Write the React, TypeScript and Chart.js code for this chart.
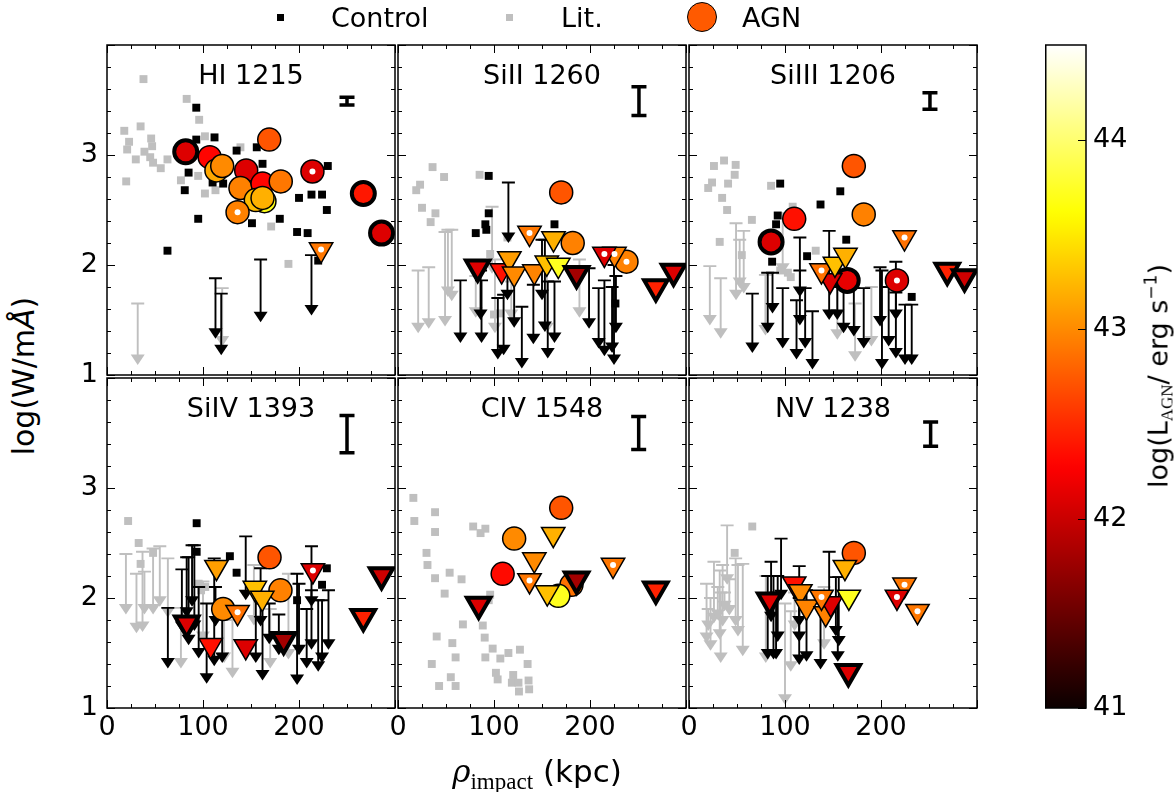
import React, { useEffect, useRef } from 'react';
import { Chart, registerables } from 'chart.js';

Chart.register(...registerables);
Chart.defaults.font.family = "'DejaVu Sans', sans-serif";
Chart.defaults.color = '#000';

// ---------- axes ----------
const X_MIN = 0;
const X_MAX = 300;
const Y_MIN = 1;
const Y_MAX = 4;
const X_TICKS = [0, 100, 200];
const Y_TICKS = [1, 2, 3];
const X_TICKS_ALL = [0, 25, 50, 75, 100, 125, 150, 175, 200, 225, 250, 275, 300];
const X_TICKS_MAJOR = [0, 100, 200, 300];
const Y_TICKS_ALL = [1, 1.2, 1.4, 1.6, 1.8, 2, 2.2, 2.4, 2.6, 2.8, 3, 3.2, 3.4, 3.6, 3.8, 4];
const Y_TICKS_MAJOR = [1, 2, 3, 4];
const CBAR_MIN = 41;
const CBAR_MAX = 44.5;
const CBAR_TICKS = [41, 42, 43, 44];

// ---------- data ----------
// points: [rho, logW]; limits: [rho, cap, arrow tip]; AGN: [rho, logW, logL_AGN, flag(0 normal,1 thick edge,2 white dot)]
const HI_LIT = [[38, 3.69], [83, 3.51], [96, 3.32], [18, 3.22], [35, 3.26], [23, 3.12], [46, 3.15], [47, 3.08], [21, 3.05], [39, 3.03], [30, 2.96], [45, 2.98], [48, 2.93], [56, 2.88], [63, 2.96], [20, 2.76], [102, 3.17], [139, 3.07], [77, 2.77], [95, 2.81], [102, 2.65], [113, 2.68], [171, 2.35], [189, 2.01]];
const HI_LIT_LIM = [[32, 1.65, 1.09], [120, 1.79, 1.26]];
const HI_CTRL = [[93, 3.43], [93, 3.14], [112, 3.16], [135, 3.04], [156, 3.07], [85, 2.84], [81, 2.68], [110, 2.75], [121, 2.74], [162, 2.92], [95, 2.42], [151, 2.38], [180, 2.42], [200, 2.61], [213, 2.64], [224, 2.64], [229, 2.5], [230, 2.9], [198, 2.3], [209, 2.29], [220, 2.04], [63, 2.13]];
const HI_CTRL_LIM = [[113, 1.88, 1.33], [119, 1.74, 1.18], [160, 2.05, 1.48], [213, 2.09, 1.54]];
const HI_AGN_DET = [[82, 3.03, 42.1, 1], [107, 2.98, 42.3, 0], [114, 2.86, 43.15, 0], [120, 2.9, 43.0, 0], [145, 2.86, 42.1, 0], [169, 3.14, 42.72, 0], [139, 2.7, 42.95, 0], [162, 2.74, 42.3, 0], [181, 2.76, 42.9, 0], [164, 2.58, 43.7, 0], [155, 2.59, 43.25, 0], [162, 2.61, 43.2, 0], [136, 2.48, 42.95, 2], [214, 2.85, 42.1, 2], [267, 2.65, 42.4, 1], [286, 2.29, 42.1, 1]];
const HI_AGN_LIM = [[223, 2.14, 42.9, 2]];
const HI_ERR = [250, 3.49, 0.035];

const SI2_LIT = [[19, 2.68], [23, 2.73], [36, 2.89], [48, 2.8], [25, 2.52], [39, 2.47], [34, 2.39], [85, 2.82], [114, 2.25], [100, 1.55], [106, 1.56], [96, 2.1]];
const SI2_LIT_LIM = [[21, 1.95, 1.38], [32, 1.98, 1.42], [49, 2.3, 1.44], [52, 2.32, 1.71], [56, 2.32, 1.67], [81, 1.9, 1.52], [98, 2.53, 1.92], [101, 2.05, 1.38], [155, 2.0, 1.38], [189, 2.05, 1.52], [118, 1.85, 1.5]];
const SI2_CTRL = [[94.5, 2.81], [94.5, 2.47], [81, 2.29], [91, 2.37], [92, 2.32], [163, 2.37], [226.5, 1.65]];
const SI2_CTRL_LIM = [[65, 1.86, 1.29], [87, 1.86, 1.29], [86, 1.95, 1.5], [115, 2.75, 2.2], [114, 2.0, 1.68], [104, 1.7, 1.14], [110, 1.73, 1.18], [121, 1.95, 1.43], [129, 1.62, 1.06], [141, 1.82, 1.28], [150, 2.23, 1.68], [153, 2.23, 1.39], [156, 1.85, 1.15], [163, 1.85, 1.29], [199, 1.97, 1.42], [209, 1.79, 1.24], [215, 1.86, 1.17], [223, 1.8, 1.2], [225, 2.0, 1.09], [227, 1.9, 1.38]];
const SI2_AGN_DET = [[170, 2.66, 42.72, 0], [182, 2.2, 42.95, 0], [238, 2.03, 42.95, 2]];
const SI2_AGN_LIM = [[83, 1.98, 42.1, 1], [108, 1.95, 42.36, 0], [137, 2.29, 42.9, 2], [116, 2.06, 43.1, 0], [121, 1.92, 43.0, 0], [142, 1.94, 42.97, 0], [162, 2.24, 43.2, 0], [155, 2.02, 43.28, 0], [167, 2.0, 43.72, 0], [186, 1.92, 41.8, 1], [225.5, 2.1, 42.95, 2], [215, 2.1, 42.1, 2], [268.6, 1.8, 42.45, 1], [287, 1.94, 42.1, 1]];
const SI2_ERR = [251, 3.49, 0.13];

const SI3_LIT = [[20, 2.7], [24, 2.75], [26, 2.9], [36.5, 2.95], [48.6, 2.91], [47.6, 2.82], [40.7, 2.74], [34.5, 2.61], [39.7, 2.5], [65.5, 2.41], [32, 2.21], [55, 2.09], [85.5, 2.72], [108, 2.53], [132, 2.13], [95, 1.95], [103, 1.93], [106, 1.89]];
const SI3_LIT_LIM = [[21.7, 1.99, 1.45], [33, 1.88, 1.33], [49, 2.38, 1.68], [52.8, 2.23, 1.79], [57, 2.31, 1.74], [97.6, 2.47, 1.92], [79.6, 1.91, 1.36], [154.5, 1.8, 1.32], [173, 1.65, 1.12], [190, 1.8, 1.26]];
const SI3_CTRL = [[95, 2.74], [92.4, 2.45], [90.7, 2.37], [86.6, 2.03], [123, 2.08], [137, 2.55], [157.6, 2.67], [163.8, 2.23], [232, 1.71]];
const SI3_CTRL_LIM = [[66, 1.74, 1.2], [82, 1.93, 1.38], [87, 1.93, 1.56], [97.6, 1.79, 1.24], [112, 1.68, 1.14], [115.5, 2.25, 1.71], [115.5, 1.95, 1.45], [121, 1.79, 1.24], [128.6, 1.58, 1.05], [146, 2.31, 1.5], [154.5, 1.8, 1.5], [161, 1.85, 1.38], [171.7, 1.79, 1.35], [182, 1.79, 1.24], [199, 1.98, 1.44], [201, 1.95, 1.05], [208, 1.8, 1.26], [215.5, 2.03, 1.5], [215.5, 1.75, 1.15], [225, 1.64, 1.09], [232, 1.64, 1.09]];
const SI3_AGN_DET = [[85.5, 2.21, 42.1, 1], [109.6, 2.42, 42.36, 0], [171.7, 2.9, 42.72, 0], [182, 2.46, 42.95, 0], [164.8, 1.86, 42.15, 1], [216.6, 1.86, 42.1, 2]];
const SI3_AGN_LIM = [[147, 1.86, 42.1, 0], [138, 1.95, 42.87, 2], [152, 2.01, 43.28, 0], [163, 2.09, 43.2, 0], [224.5, 2.25, 42.87, 2], [269, 1.95, 42.45, 1], [287, 1.89, 42.02, 1]];
const SI3_ERR = [251, 3.49, 0.075];

const SI4_LIT = [[22, 2.7], [33, 2.5], [35, 2.31], [48, 2.41], [95.5, 2.13], [102.4, 2.1], [98, 2.07]];
const SI4_LIT_LIM = [[19.7, 2.4, 1.85], [30.7, 2.22, 1.68], [37, 2.42, 1.69], [39, 2.24, 1.85], [48, 2.45, 1.85], [55, 2.47, 1.92], [63.4, 2.36, 1.82], [77, 1.91, 1.36], [130.7, 1.8, 1.27], [153, 2.3, 1.75], [170, 1.9, 1.36], [189, 2.22, 1.44], [122, 1.9, 1.41], [100, 2.15, 1.6]];
const SI4_CTRL = [[93.4, 2.68], [93.4, 2.42], [128, 2.38], [135, 2.23], [198, 1.98], [229, 2.27], [224, 2.12]];
const SI4_CTRL_LIM = [[63.4, 1.91, 1.36], [78, 2.26, 1.69], [83, 2.37, 1.82], [85, 2.37, 1.57], [88.6, 2.48, 1.92], [91, 2.48, 1.7], [95.5, 2.1, 1.45], [103.8, 1.95, 1.22], [111.7, 2.36, 1.38], [113, 2.1, 1.74], [120, 1.95, 1.41], [144.5, 2.56, 1.98], [155, 2.07, 1.41], [160, 2.27, 1.74], [162, 1.95, 1.25], [169, 1.95, 1.58], [179, 1.85, 1.48], [198, 2.22, 1.21], [200, 2.13, 1.48], [208, 1.9, 1.36], [213, 2.47, 1.92], [213, 2.07, 1.53], [220, 1.98, 1.33], [224, 1.98, 1.41], [230.7, 2.07, 1.53]];
const SI4_AGN_DET = [[169.3, 2.37, 42.72, 0], [180.7, 2.07, 42.95, 0], [121, 1.9, 43.0, 0]];
const SI4_AGN_LIM = [[83, 1.77, 42.1, 1], [108, 1.57, 42.36, 0], [114, 2.28, 43.11, 0], [136, 1.87, 42.87, 2], [144.5, 1.56, 42.1, 0], [154, 2.09, 43.28, 0], [161.7, 2.0, 43.2, 0], [184, 1.62, 41.8, 1], [214.5, 2.25, 42.1, 2], [267, 1.83, 42.45, 1], [286, 2.21, 42.02, 1]];
const SI4_ERR = [250, 3.49, 0.17];

const CIV_LIT = [[16, 2.91], [17, 2.7], [38.6, 2.78], [38.6, 2.6], [29.7, 2.41], [30.7, 2.3], [38.6, 2.18], [53.8, 2.23], [66.2, 2.17], [48.6, 2.04], [78.3, 2.65], [91, 2.63], [86, 2.59], [96, 2.03], [94.5, 1.98], [67.6, 1.76], [88.3, 1.75], [90.3, 1.64], [40.3, 1.65], [56.6, 1.59], [60, 1.46], [35.2, 1.4], [42.8, 1.2], [55, 1.28], [60, 1.2], [98.6, 1.54], [91, 1.46], [106.6, 1.45], [115, 1.5], [127, 1.53], [135, 1.4], [102, 1.32], [103.8, 1.26], [120, 1.3], [118.6, 1.23], [125.5, 1.23], [126, 1.15], [136, 1.25], [136.6, 1.17]];
const CIV_LIT_LIM: number[][] = [];
const CIV_CTRL: number[][] = [];
const CIV_CTRL_LIM: number[][] = [];
const CIV_AGN_DET = [[170, 2.82, 42.72, 0], [121, 2.54, 43.0, 0], [109, 2.22, 42.33, 0], [180.7, 2.12, 42.87, 0], [167, 2.02, 43.72, 0]];
const CIV_AGN_LIM = [[84, 1.94, 42.1, 1], [161.7, 2.58, 43.2, 0], [142, 2.35, 43.0, 0], [137, 2.16, 42.9, 2], [155.5, 2.05, 43.28, 0], [186, 2.17, 41.8, 1], [224, 2.3, 42.9, 2], [268.6, 2.08, 42.45, 1]];
const CIV_ERR = [250.7, 3.5, 0.15];

const NV_LIT = [[65.9, 2.65], [47.6, 2.41]];
const NV_LIT_LIM = [[18.3, 2.13, 1.59], [22.4, 2.0, 1.52], [26, 2.33, 1.77], [32, 2.25, 1.62], [35, 2.3, 1.74], [39.7, 2.66, 2.12], [37, 2.05, 1.88], [42, 2.17, 1.84], [48.6, 2.36, 1.74], [51, 2.3, 1.65], [56, 2.31, 1.47], [33, 2.05, 1.41], [80, 2.2, 1.41], [100, 1.95, 1.03], [106, 1.88, 1.33], [110, 2.05, 1.7], [140.7, 2.1, 1.53], [30, 2.1, 1.8], [20, 1.9, 1.7]];
const NV_CTRL: number[][] = [];
const NV_CTRL_LIM = [[82, 2.2, 1.44], [85.5, 2.33, 1.78], [88, 2.2, 1.44], [90.7, 2.05, 1.44], [95.9, 2.54, 1.98], [92.4, 2.2, 1.6], [114.8, 2.29, 1.74], [114.8, 2.1, 1.6], [114.8, 2.0, 1.39], [122.4, 2.07, 1.42], [137, 1.95, 1.35], [146, 2.42, 1.86], [153, 2.19, 1.65], [156, 2.19, 1.56], [155, 2.0, 1.42]];
const NV_AGN_DET = [[171.7, 2.41, 42.72, 0]];
const NV_AGN_LIM = [[84, 1.98, 42.1, 1], [109.6, 2.13, 42.36, 0], [116, 2.06, 43.0, 0], [122.4, 1.92, 42.97, 0], [142.4, 1.86, 42.95, 0], [147.6, 1.95, 42.1, 0], [138, 2.01, 42.9, 2], [162.4, 2.28, 43.2, 0], [166.5, 2.01, 43.72, 0], [166, 1.33, 42.1, 1], [224.5, 2.12, 42.9, 2], [216.6, 2.01, 42.1, 2], [238, 1.88, 42.9, 2]];
const NV_ERR = [251.7, 3.49, 0.11];

const PANELS = [
  { title: 'HI 1215', lit: HI_LIT, litLim: HI_LIT_LIM, ctrl: HI_CTRL, ctrlLim: HI_CTRL_LIM, det: HI_AGN_DET, lim: HI_AGN_LIM, err: HI_ERR },
  { title: 'SiII 1260', lit: SI2_LIT, litLim: SI2_LIT_LIM, ctrl: SI2_CTRL, ctrlLim: SI2_CTRL_LIM, det: SI2_AGN_DET, lim: SI2_AGN_LIM, err: SI2_ERR },
  { title: 'SiIII 1206', lit: SI3_LIT, litLim: SI3_LIT_LIM, ctrl: SI3_CTRL, ctrlLim: SI3_CTRL_LIM, det: SI3_AGN_DET, lim: SI3_AGN_LIM, err: SI3_ERR },
  { title: 'SiIV 1393', lit: SI4_LIT, litLim: SI4_LIT_LIM, ctrl: SI4_CTRL, ctrlLim: SI4_CTRL_LIM, det: SI4_AGN_DET, lim: SI4_AGN_LIM, err: SI4_ERR },
  { title: 'CIV 1548', lit: CIV_LIT, litLim: CIV_LIT_LIM, ctrl: CIV_CTRL, ctrlLim: CIV_CTRL_LIM, det: CIV_AGN_DET, lim: CIV_AGN_LIM, err: CIV_ERR },
  { title: 'NV 1238', lit: NV_LIT, litLim: NV_LIT_LIM, ctrl: NV_CTRL, ctrlLim: NV_CTRL_LIM, det: NV_AGN_DET, lim: NV_AGN_LIM, err: NV_ERR },
];

// ---------- layout / style ----------
const COL_LEFT = [107, 398, 689];
const ROW_TOP = [45, 378];
const PW = 288;
const PH = 330;
const ML = 60;
const MT = 30;
const MR = 30;
const MB = 50;
const GRAY = '#bfbfbf';
const FONT = "'DejaVu Sans', sans-serif";

function hot(v: number): string {
  const t = Math.min(1, Math.max(0, (v - CBAR_MIN) / (CBAR_MAX - CBAR_MIN)));
  const r = Math.min(1, 0.0416 + (0.9584 * t) / 0.365079);
  const g = Math.min(1, Math.max(0, (t - 0.365079) / (0.746032 - 0.365079)));
  const b = Math.min(1, Math.max(0, (t - 0.746032) / (1 - 0.746032)));
  return `rgb(${Math.round(r * 255)},${Math.round(g * 255)},${Math.round(b * 255)})`;
}

function drawLims(chart: any, lims: number[][], color: string) {
  const { ctx, chartArea: a, scales } = chart;
  const xs = scales.x, ys = scales.y;
  ctx.save();
  ctx.beginPath();
  ctx.rect(a.left, a.top, a.right - a.left, a.bottom - a.top);
  ctx.clip();
  ctx.strokeStyle = color;
  ctx.fillStyle = color;
  ctx.lineWidth = 1.9;
  const hl = 10.5, hw = 7, cw = 6.5;
  for (const [xv, top, tip] of lims) {
    const px = xs.getPixelForValue(xv);
    const p0 = ys.getPixelForValue(top);
    const p1 = ys.getPixelForValue(tip);
    ctx.beginPath();
    ctx.moveTo(px, p0);
    ctx.lineTo(px, p1 - hl + 1);
    ctx.moveTo(px - cw, p0);
    ctx.lineTo(px + cw, p0);
    ctx.stroke();
    ctx.beginPath();
    ctx.moveTo(px - hw, p1 - hl);
    ctx.lineTo(px + hw, p1 - hl);
    ctx.lineTo(px, p1);
    ctx.closePath();
    ctx.fill();
  }
  ctx.restore();
}

function Panel({ index }: { index: number }) {
  const ref = useRef<HTMLCanvasElement>(null);
  const col = index % 3;
  const row = Math.floor(index / 3);
  const W = ML + PW + MR;
  const H = MT + PH + MB;
  useEffect(() => {
    const p = PANELS[index];
    const decor = {
      id: 'decor' + index,
      beforeDatasetsDraw(chart: any) {
        drawLims(chart, p.litLim, GRAY);
      },
      afterDatasetDraw(chart: any, args: any) {
        if (args.index === 0) drawLims(chart, p.ctrlLim, '#000');
      },
      afterDatasetsDraw(chart: any) {
        const { ctx, chartArea: a, scales } = chart;
        const xs = scales.x, ys = scales.y;
        ctx.save();
        // reference error bar
        const [ex, ey, eh] = p.err;
        const px = xs.getPixelForValue(ex);
        const yt = ys.getPixelForValue(ey + eh);
        const yb = ys.getPixelForValue(ey - eh);
        ctx.strokeStyle = '#000';
        ctx.lineWidth = 3.5;
        ctx.beginPath();
        ctx.moveTo(px, yt);
        ctx.lineTo(px, yb);
        ctx.moveTo(px - 7.5, yt);
        ctx.lineTo(px + 7.5, yt);
        ctx.moveTo(px - 7.5, yb);
        ctx.lineTo(px + 7.5, yb);
        ctx.stroke();
        // ticks (inward, all sides)
        ctx.lineWidth = 1;
        ctx.beginPath();
        for (const v of X_TICKS_ALL) {
          const x = Math.round(xs.getPixelForValue(v)) + 0.5;
          const len = X_TICKS_MAJOR.includes(v) ? 8 : 4;
          ctx.moveTo(x, a.bottom);
          ctx.lineTo(x, a.bottom - len);
          ctx.moveTo(x, a.top);
          ctx.lineTo(x, a.top + len);
        }
        for (const v of Y_TICKS_ALL) {
          const y = Math.round(ys.getPixelForValue(v)) + 0.5;
          const len = Y_TICKS_MAJOR.includes(v) ? 8 : 4;
          ctx.moveTo(a.left, y);
          ctx.lineTo(a.left + len, y);
          ctx.moveTo(a.right, y);
          ctx.lineTo(a.right - len, y);
        }
        ctx.stroke();
        // spines
        ctx.lineWidth = 1.5;
        ctx.strokeRect(a.left, a.top, a.right - a.left, a.bottom - a.top);
        // title
        ctx.fillStyle = '#000';
        ctx.font = `27px ${FONT}`;
        ctx.textAlign = 'center';
        ctx.textBaseline = 'alphabetic';
        ctx.fillText(p.title, (a.left + a.right) / 2, a.top + 39);
        ctx.restore();
      },
    };
    const dots = [...p.det, ...p.lim].filter((d) => d[3] === 2);
    const chart = new Chart(ref.current as HTMLCanvasElement, {
      type: 'scatter',
      data: {
        datasets: [
          {
            data: p.lit.map(([x, y]) => ({ x, y })),
            pointStyle: 'rect',
            pointRadius: 5.6,
            pointBackgroundColor: GRAY,
            pointBorderWidth: 0,
            order: 5,
          },
          {
            data: p.ctrl.map(([x, y]) => ({ x, y })),
            pointStyle: 'rect',
            pointRadius: 5.6,
            pointBackgroundColor: '#000',
            pointBorderWidth: 0,
            order: 4,
          },
          {
            data: p.det.map(([x, y]) => ({ x, y })),
            pointStyle: 'circle',
            pointRadius: 11.5,
            pointBackgroundColor: p.det.map((d) => hot(d[2])),
            pointBorderColor: '#000',
            pointBorderWidth: p.det.map((d) => (d[3] === 1 ? 4 : 1.5)),
            order: 3,
          },
          {
            data: p.lim.map(([x, y]) => ({ x, y })),
            pointStyle: 'triangle',
            pointRotation: 180,
            pointRadius: 13.5,
            pointBackgroundColor: p.lim.map((d) => hot(d[2])),
            pointBorderColor: '#000',
            pointBorderWidth: p.lim.map((d) => (d[3] === 1 ? 4 : 1.5)),
            order: 2,
          },
          {
            data: dots.map(([x, y]) => ({ x, y })),
            pointStyle: 'circle',
            pointRadius: 3,
            pointBackgroundColor: '#fff',
            pointBorderWidth: 0,
            order: 1,
          },
        ],
      } as any,
      options: {
        animation: false,
        responsive: false,
        devicePixelRatio: 1,
        events: [],
        layout: { padding: { top: MT, right: MR, left: 0, bottom: 0 } },
        plugins: { legend: { display: false }, tooltip: { enabled: false } },
        scales: {
          x: {
            type: 'linear',
            min: X_MIN,
            max: X_MAX,
            grid: { display: false, drawTicks: false },
            border: { display: false },
            ticks: { display: row === 1, padding: 4, font: { size: 27 }, color: '#000' },
            afterBuildTicks: (s: any) => {
              s.ticks = X_TICKS.map((v) => ({ value: v }));
            },
            afterFit: (s: any) => {
              s.height = MB;
            },
          },
          y: {
            type: 'linear',
            min: Y_MIN,
            max: Y_MAX,
            grid: { display: false, drawTicks: false },
            border: { display: false },
            ticks: { display: col === 0, padding: 9, font: { size: 27 }, color: '#000' },
            afterBuildTicks: (s: any) => {
              s.ticks = Y_TICKS.map((v) => ({ value: v }));
            },
            afterFit: (s: any) => {
              s.width = ML;
            },
          },
        },
      } as any,
      plugins: [decor],
    });
    return () => chart.destroy();
  }, [index]);
  return (
    <canvas
      ref={ref}
      width={W}
      height={H}
      style={{ position: 'absolute', left: COL_LEFT[col] - ML, top: ROW_TOP[row] - MT, width: W, height: H }}
    />
  );
}

const CB_LEFT = 1045;
const CB_WIDTH = 41;
const CB_TOP = 45;
const CB_HEIGHT = 663;
const CB_PAD = 30;
const CB_AXIS_W = 80;

function ColorBar() {
  const ref = useRef<HTMLCanvasElement>(null);
  const W = CB_WIDTH + CB_AXIS_W;
  const H = CB_HEIGHT + 2 * CB_PAD;
  useEffect(() => {
    const grad = {
      id: 'cbar',
      beforeDatasetsDraw(chart: any) {
        const { ctx, chartArea: a, scales } = chart;
        const ys = scales.y;
        const g = ctx.createLinearGradient(0, a.bottom, 0, a.top);
        for (let i = 0; i <= 64; i++) {
          const f = i / 64;
          g.addColorStop(f, hot(CBAR_MIN + f * (CBAR_MAX - CBAR_MIN)));
        }
        ctx.save();
        ctx.fillStyle = g;
        ctx.fillRect(a.left, a.top, a.right - a.left, a.bottom - a.top);
        ctx.strokeStyle = '#000';
        ctx.lineWidth = 1;
        ctx.beginPath();
        for (const v of CBAR_TICKS) {
          const y = Math.round(ys.getPixelForValue(v)) + 0.5;
          ctx.moveTo(a.right, y);
          ctx.lineTo(a.right - 8, y);
        }
        ctx.stroke();
        ctx.lineWidth = 1.5;
        ctx.strokeRect(a.left + 0.75, a.top, a.right - a.left - 0.75, a.bottom - a.top);
        ctx.restore();
      },
    };
    const chart = new Chart(ref.current as HTMLCanvasElement, {
      type: 'scatter',
      data: { datasets: [] },
      options: {
        animation: false,
        responsive: false,
        devicePixelRatio: 1,
        events: [],
        layout: { padding: { top: CB_PAD, bottom: CB_PAD, left: 0, right: 0 } },
        plugins: { legend: { display: false }, tooltip: { enabled: false } },
        scales: {
          x: { type: 'linear', display: false, min: 0, max: 1 },
          y: {
            type: 'linear',
            position: 'right',
            min: CBAR_MIN,
            max: CBAR_MAX,
            grid: { display: false, drawTicks: false },
            border: { display: false },
            ticks: { padding: 7, font: { size: 27 }, color: '#000' },
            afterBuildTicks: (s: any) => {
              s.ticks = CBAR_TICKS.map((v) => ({ value: v }));
            },
            afterFit: (s: any) => {
              s.width = CB_AXIS_W;
            },
          },
        },
      } as any,
      plugins: [grad],
    });
    return () => chart.destroy();
  }, []);
  return (
    <canvas
      ref={ref}
      width={W}
      height={H}
      style={{ position: 'absolute', left: CB_LEFT, top: CB_TOP - CB_PAD, width: W, height: H }}
    />
  );
}

const txt: React.CSSProperties = { position: 'absolute', fontFamily: FONT, color: '#000', whiteSpace: 'nowrap', lineHeight: 1 };

export default function App() {
  return (
    <div style={{ position: 'absolute', left: 0, top: 0, width: 1175, height: 792, background: '#fff', overflow: 'hidden' }}>
      {PANELS.map((_, i) => (
        <Panel key={i} index={i} />
      ))}
      <ColorBar />
      {/* legend */}
      <div style={{ position: 'absolute', left: 277, top: 14, width: 7, height: 7, background: '#000' }} />
      <div style={{ ...txt, left: 331, top: 4, fontSize: 27 }}>Control</div>
      <div style={{ position: 'absolute', left: 506, top: 14, width: 7, height: 7, background: GRAY }} />
      <div style={{ ...txt, left: 561, top: 4, fontSize: 27 }}>Lit.</div>
      <div
        style={{
          position: 'absolute',
          left: 687,
          top: 2,
          width: 28,
          height: 28,
          borderRadius: '50%',
          background: hot(42.75),
          border: '1.5px solid #000',
        }}
      />
      <div style={{ ...txt, left: 742, top: 4, fontSize: 27 }}>AGN</div>
      {/* y label */}
      <div style={{ ...txt, left: 24, top: 376, fontSize: 30, transform: 'translate(-50%, -50%) rotate(-90deg)' }}>
        log(W/m<span style={{ fontStyle: 'italic' }}>Å</span>)
      </div>
      {/* x label */}
      <div style={{ ...txt, left: 537, top: 771, fontSize: 31, transform: 'translate(-50%, -50%)' }}>
        <span style={{ fontFamily: "'DejaVu Serif', serif", fontStyle: 'italic' }}>ρ</span>
        <span style={{ fontFamily: "'Liberation Serif', serif", fontSize: 23, position: 'relative', top: 7 }}>impact</span> (kpc)
      </div>
      {/* colorbar label */}
      <div style={{ ...txt, left: 1158, top: 376, fontSize: 27, transform: 'translate(-50%, -50%) rotate(-90deg)' }}>
        log(L<span style={{ fontFamily: "'Liberation Serif', serif", fontSize: 17, position: 'relative', top: 5 }}>AGN</span>/ erg s
        <span style={{ fontSize: 17, position: 'relative', top: -11 }}>−1</span>)
      </div>
    </div>
  );
}
